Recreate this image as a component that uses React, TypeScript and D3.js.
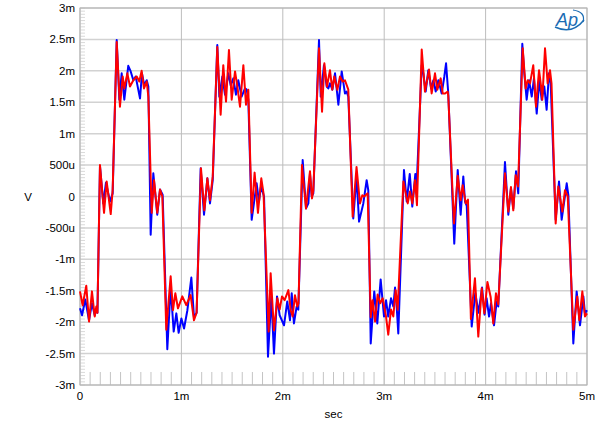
import React from "react";
import * as d3 from "d3";

// time in ms, value in mV
const blueSeries: [number, number][] = [
  [0,-1.78],[0.02,-1.89],[0.052,-1.64],[0.089,-1.97],[0.118,-1.70],[0.145,-1.89],[0.161,-1.80],[0.172,-1.85],
  [0.197,0.48],[0.230,-0.11],[0.256,0.22],[0.296,-0.08],[0.322,0.05],[0.362,2.49],
  [0.388,1.54],[0.411,1.96],[0.437,1.54],[0.476,2.08],[0.500,1.99],[0.526,1.85],[0.549,1.91],[0.565,1.78],[0.592,1.56],[0.611,1.96],[0.634,1.77],[0.658,1.85],[0.674,1.75],
  [0.697,-0.61],[0.723,0.37],[0.762,-0.29],[0.789,0.11],[0.815,0.03],
  [0.861,-2.43],[0.894,-1.44],[0.924,-2.15],[0.950,-1.86],[0.973,-2.17],[1.000,-1.94],[1.026,-2.10],[1.059,-1.81],[1.098,-1.29],[1.124,-1.92],[1.150,-1.85],
  [1.190,0.45],[1.223,-0.29],[1.256,0.29],[1.282,-0.11],[1.309,0.26],[1.354,2.41],
  [1.374,1.59],[1.404,1.91],[1.430,1.62],[1.463,1.96],[1.486,1.77],[1.512,1.88],[1.538,1.62],[1.561,1.85],[1.594,1.59],[1.627,1.72],[1.644,1.70],[1.660,1.54],
  [1.693,-0.37],[1.742,0.21],[1.765,-0.08],[1.785,0.16],[1.815,0.00],
  [1.854,-2.55],[1.887,-1.59],[1.913,-2.50],[1.943,-1.59],[1.969,-1.89],[2.012,-2.05],[2.044,-1.67],[2.071,-1.97],[2.088,-1.54],[2.110,-2.02],[2.137,-1.75],[2.153,-1.80],
  [2.196,0.58],[2.229,-0.19],[2.252,-0.11],[2.268,0.37],[2.285,0.00],[2.301,0.05],[2.357,2.49],
  [2.374,1.59],[2.406,2.09],[2.433,1.75],[2.449,1.72],[2.465,1.80],[2.489,1.70],[2.515,1.96],[2.548,1.46],[2.581,1.99],[2.613,1.64],[2.630,1.67],[2.646,1.59],
  [2.695,-0.35],[2.727,0.32],[2.752,-0.40],[2.794,-0.11],[2.827,0.26],[2.843,0.10],
  [2.867,-2.34],[2.902,-1.51],[2.932,-2.02],[2.965,-1.32],[2.998,-1.91],[3.018,-1.65],[3.040,-1.91],[3.067,-1.62],[3.090,-1.75],[3.107,-1.45],[3.123,-1.75],[3.139,-2.18],
  [3.195,0.42],[3.222,-0.08],[3.252,0.36],[3.277,-0.16],[3.307,0.36],[3.320,0.16],[3.370,2.09],
  [3.386,1.96],[3.409,1.67],[3.435,2.01],[3.462,1.72],[3.485,1.85],[3.508,1.67],[3.534,1.85],[3.567,1.64],[3.593,1.91],[3.610,2.12],[3.626,1.77],[3.632,1.64],
  [3.691,-0.75],[3.725,0.42],[3.754,-0.29],[3.780,0.32],[3.797,-0.08],[3.814,-0.15],
  [3.863,-2.07],[3.898,-1.54],[3.930,-1.85],[3.965,-1.45],[3.990,-1.88],[4.010,-1.62],[4.034,-1.91],[4.053,-1.70],[4.083,-2.05],[4.109,-1.67],[4.125,-1.75],
  [4.191,0.55],[4.224,-0.29],[4.250,0.13],[4.273,-0.19],[4.300,0.40],[4.322,0.05],[4.362,2.43],
  [4.382,1.96],[4.405,1.54],[4.428,1.85],[4.455,1.59],[4.477,1.88],[4.504,1.32],[4.530,1.85],[4.553,1.54],[4.579,1.75],[4.602,1.38],[4.625,1.96],[4.642,1.80],
  [4.691,-0.37],[4.724,0.24],[4.750,-0.37],[4.800,0.21],[4.816,0.02],
  [4.865,-2.34],[4.898,-1.51],[4.931,-2.05],[4.964,-1.59],[4.980,-1.86],[5.0,-1.81],
];

const redSeries: [number, number][] = [
  [0,-1.51],[0.026,-1.73],[0.062,-1.42],[0.089,-1.99],[0.118,-1.51],[0.145,-1.91],[0.161,-1.75],[0.172,-1.85],
  [0.197,0.50],[0.237,-0.26],[0.263,0.24],[0.303,-0.28],[0.322,0.10],[0.362,2.46],
  [0.394,1.43],[0.421,1.91],[0.437,1.72],[0.467,1.96],[0.493,1.75],[0.526,1.85],[0.559,1.91],[0.585,1.83],[0.608,2.00],[0.631,1.72],[0.658,1.83],[0.674,1.59],
  [0.707,-0.26],[0.730,0.26],[0.762,-0.26],[0.789,0.11],[0.812,0.00],
  [0.851,-2.12],[0.894,-1.27],[0.917,-1.81],[0.940,-1.54],[0.966,-1.78],[1.009,-1.59],[1.048,-1.73],[1.091,-1.57],[1.124,-1.97],[1.150,-1.85],
  [1.193,0.45],[1.226,-0.22],[1.256,0.29],[1.282,-0.06],[1.309,0.32],[1.354,2.38],
  [1.387,1.30],[1.413,2.09],[1.440,1.51],[1.469,2.33],[1.496,1.54],[1.529,1.99],[1.552,1.75],[1.578,1.43],[1.611,2.09],[1.637,1.46],[1.660,1.70],
  [1.693,-0.26],[1.722,0.38],[1.755,-0.26],[1.788,0.29],[1.810,0.05],
  [1.861,-2.15],[1.880,-1.22],[1.913,-2.13],[1.946,-1.62],[1.969,-1.80],[1.992,-1.59],[2.018,-1.65],[2.055,-1.49],[2.078,-1.81],[2.097,-1.91],[2.120,-1.57],[2.143,-1.75],[2.155,-1.70],
  [2.189,0.50],[2.229,-0.19],[2.268,0.40],[2.288,-0.03],[2.301,0.10],[2.357,2.36],
  [2.387,1.35],[2.410,2.12],[2.436,1.75],[2.465,2.01],[2.488,1.70],[2.508,1.91],[2.538,1.70],[2.564,1.91],[2.590,1.83],[2.613,1.85],[2.646,1.70],
  [2.689,-0.32],[2.727,0.47],[2.761,-0.11],[2.784,0.02],[2.801,0.00],[2.837,0.05],
  [2.867,-1.92],[2.885,-1.65],[2.910,-1.99],[2.935,-1.56],[2.960,-1.70],[2.985,-1.62],[3.018,-1.91],[3.040,-2.20],[3.067,-1.80],[3.090,-1.91],[3.113,-1.49],[3.133,-1.80],
  [3.189,0.24],[3.232,-0.11],[3.254,0.08],[3.277,-0.11],[3.304,0.26],[3.323,-0.14],[3.370,2.34],
  [3.402,1.67],[3.442,2.02],[3.468,1.64],[3.501,1.96],[3.524,1.70],[3.557,1.88],[3.577,1.64],[3.600,1.64],[3.626,1.67],[3.632,1.60],
  [3.688,-0.43],[3.725,0.33],[3.754,-0.06],[3.774,0.18],[3.804,-0.11],[3.826,-0.05],
  [3.855,-1.95],[3.895,-1.30],[3.928,-2.23],[3.962,-1.46],[3.988,-1.86],[4.018,-1.36],[4.050,-1.60],[4.076,-2.02],[4.102,-1.54],[4.125,-1.72],
  [4.191,0.37],[4.224,-0.24],[4.250,0.15],[4.273,-0.22],[4.297,0.34],[4.320,0.16],[4.366,2.36],
  [4.395,1.72],[4.415,1.85],[4.438,1.80],[4.470,2.09],[4.497,1.43],[4.527,2.01],[4.546,1.77],[4.559,1.54],[4.586,2.36],[4.612,1.80],[4.635,2.01],[4.650,1.80],
  [4.691,-0.43],[4.717,0.16],[4.757,-0.24],[4.783,0.10],[4.810,0.00],
  [4.865,-2.12],[4.904,-1.59],[4.924,-1.97],[4.954,-1.51],[4.980,-1.91],[5.0,-1.86],
];

const xTicks = [0, 1, 2, 3, 4, 5];
const xTickLabels = ["0", "1m", "2m", "3m", "4m", "5m"];
const yTicks = [3, 2.5, 2, 1.5, 1, 0.5, 0, -0.5, -1, -1.5, -2, -2.5, -3];
const yTickLabels = ["3m", "2.5m", "2m", "1.5m", "1m", "500u", "0", "-500u", "-1m", "-1.5m", "-2m", "-2.5m", "-3m"];

const W = 600, H = 427;
const L = 80, R = 587, T = 8, B = 385;
const FONT = "'Liberation Sans', Arial, sans-serif";

export default function App() {
  const x = d3.scaleLinear().domain([0, 5]).range([L, R]);
  const y = d3.scaleLinear().domain([-3, 3]).range([B, T]);
  const line = d3.line<[number, number]>().x(d => x(d[0])).y(d => y(d[1]));
  const xMinor = d3.range(0, 50).map(i => i / 10).filter(v => v > 0);
  const yMinor = d3.range(-60, 61).map(i => i / 20);

  return (
    <div style={{ position: "fixed", left: 0, top: 0 }}>
      <svg width={W} height={H} style={{ display: "block", background: "#fff" }}>
        <rect x={0} y={0} width={W} height={H} fill="#fff" />
        {yTicks.map(v => (
          <line key={"gy" + v} x1={L} x2={R} y1={y(v)} y2={y(v)} stroke="#d2d2d2" strokeWidth={1.5} />
        ))}
        {xTicks.map(v => (
          <line key={"gx" + v} x1={x(v)} x2={x(v)} y1={T} y2={B} stroke="#bdbdbd" strokeWidth={1} />
        ))}
        {yMinor.map((v, i) => (
          <line key={"ym" + i} x1={L} x2={L + 5} y1={y(v)} y2={y(v)} stroke="#d0d0d0" strokeWidth={0.8} />
        ))}
        {xMinor.map((v, i) => (
          <line key={"xm" + i} x1={x(v)} x2={x(v)} y1={B - 13} y2={B} stroke="#c4c4c4" strokeWidth={1} />
        ))}
        <rect x={L} y={T} width={R - L} height={B - T} fill="none" stroke="#b4b4b4" strokeWidth={1} />
        <path d={line(blueSeries) || ""} fill="none" stroke="#0000ff" strokeWidth={2} strokeLinejoin="round" />
        <path d={line(redSeries) || ""} fill="none" stroke="#ff0000" strokeWidth={2} strokeLinejoin="round" />
        {yTicks.map((v, i) => (
          <text key={"yl" + v} x={L - 5} y={y(v)} dy="0.35em" textAnchor="end" fontFamily={FONT} fontSize={11.5} fill="#000">
            {yTickLabels[i]}
          </text>
        ))}
        {xTicks.map((v, i) => (
          <text key={"xl" + v} x={x(v)} y={B + 15} textAnchor="middle" fontFamily={FONT} fontSize={11.5} fill="#000">
            {xTickLabels[i]}
          </text>
        ))}
        <text x={28} y={y(0)} dy="0.35em" textAnchor="middle" fontFamily={FONT} fontSize={11.5}>V</text>
        <text x={(L + R) / 2} y={418} textAnchor="middle" fontFamily={FONT} fontSize={11.5}>sec</text>
        <g>
          <path d="M 555 27 Q 572 35 584 20" fill="none" stroke="#1b6cb3" strokeWidth={1.5} />
          <path d="M 573 10 Q 586 12 583 22" fill="none" stroke="#1b6cb3" strokeWidth={1.2} />
          <text x={556} y={26} fontFamily={FONT} fontSize={18} fontStyle="italic" fill="#1b6cb3">Ap</text>
        </g>
      </svg>
    </div>
  );
}
